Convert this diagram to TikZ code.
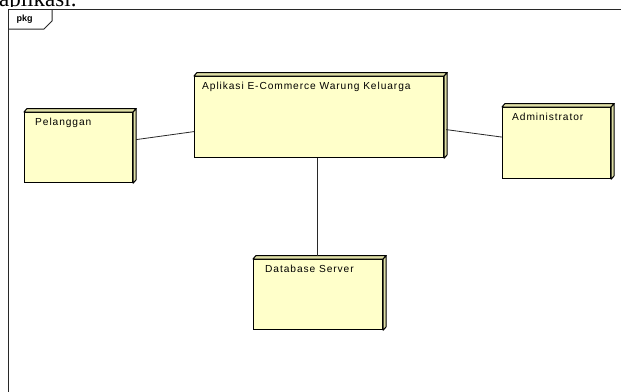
\documentclass[tikz,border=0pt]{standalone}
\usepackage{fontspec}
\setmainfont{Liberation Serif}
\newfontfamily\nodefont[LetterSpace=9]{Liberation Sans}
\newfontfamily\tabfont{Liberation Sans}
\definecolor{nodefill}{RGB}{255,255,202}
\definecolor{nodeside}{RGB}{222,222,165}
\definecolor{edgecol}{RGB}{40,40,40}
\tikzset{
  depnode/.style={draw=black, line width=1.2pt, fill=nodefill, inner sep=0pt, anchor=north west},
  nodetitle/.style={anchor=north west, inner sep=0pt, text=black, font=\nodefont\fontsize{10.2}{12}\selectfont},
  depface/.style={fill=nodeside, draw=black, line width=1.0pt, line join=round},
  link/.style={draw=edgecol, line width=0.8pt},
  frameline/.style={draw=edgecol, line width=1.0pt}
}
% y grows downwards here, so a negative y offset moves up
\newcommand{\nodedepth}[1]{%
  \path[depface] (#1.north west) -- ++(3,-3.5) -- ([shift={(3,-3.5)}]#1.north east) -- (#1.north east) -- cycle;
  \path[depface] (#1.north east) -- ++(3,-3.5) -- ([shift={(3,-3.5)}]#1.south east) -- (#1.south east) -- cycle;
}
\begin{document}
\begin{tikzpicture}[x=1pt, y=-1pt]
\useasboundingbox (0,0) rectangle (621,391);
% running text above the figure
\node[anchor=base west, inner sep=0pt, font=\fontsize{23}{23}\selectfont] (caption) at (-1,6) {aplikasi.};
\fill[white] (0,6.6) rectangle (621,391);
% package frame and its tab
\draw[frameline] (630,9) -- (8,9) -- (8,400);
\draw[frameline] (8,29) -- (44,29) -- (52,21) -- (52,9);
\node[anchor=west, inner sep=0pt, font=\tabfont\bfseries\fontsize{9}{10}\selectfont] (tab) at (16.5,19) {pkg};
% deployment nodes
\node[depnode, minimum width=108pt, minimum height=70pt] (pel) at (24,112) {};
\node[depnode, minimum width=249pt, minimum height=81pt] (app) at (194,76) {};
\node[depnode, minimum width=108pt, minimum height=71pt] (adm) at (502,107) {};
\node[depnode, minimum width=129pt, minimum height=70pt] (db) at (253,259) {};
\nodedepth{pel}
\nodedepth{app}
\nodedepth{adm}
\nodedepth{db}
\node[nodetitle] (pel-t) at ([shift={(11,5.5)}]pel.north west) {Pelanggan};
\node[nodetitle] (app-t) at ([shift={(8,5.5)}]app.north west) {Aplikasi E-Commerce Warung Keluarga};
\node[nodetitle] (adm-t) at ([shift={(10,5.5)}]adm.north west) {Administrator};
\node[nodetitle] (db-t) at ([shift={(12,6)}]db.north west) {Database Server};
% communication paths
\draw[link] ([shift={(3,-8)}]pel.east) -- ([shift={(0,14.5)}]app.west);
\draw[link] ([shift={(2,12.5)}]app.east) -- ([shift={(0,-6)}]adm.west);
\draw[link] ([xshift=-1.5]app.south) -- ([shift={(-1.5,-3.5)}]app.south |- db.north);
\end{tikzpicture}
\end{document}
